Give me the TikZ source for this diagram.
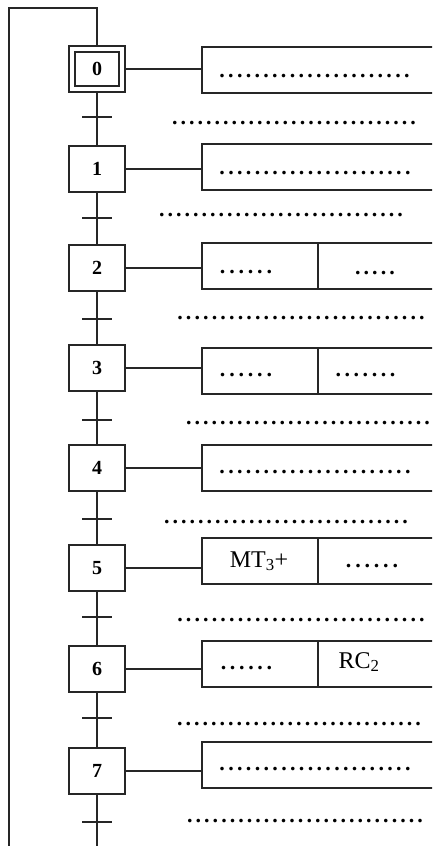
\documentclass[tikz,border=0pt]{standalone}
\usepackage{fontspec}
\setmainfont{Liberation Serif}
\newcommand\dotrow[1]{\hbox to \dimexpr #1\relax{\xleaders\hbox to 8.5pt{\hss.\hss}\hfill}}
\tikzset{
  line/.style={draw=black!85, line width=2pt},
  stepbox/.style={line, minimum width=56pt, minimum height=46pt, inner sep=0pt, font=\fontsize{20}{24}\selectfont\bfseries},
  actbox/.style={line, minimum height=46pt, inner sep=0pt},
  dotstxt/.style={anchor=base, inner sep=0pt, font=\fontsize{22}{26}\selectfont\bfseries},
  lbl/.style={anchor=base, inner sep=0pt, font=\fontsize{24}{28}\selectfont},
}
\newcommand\dotsat[4]{\node[dotstxt] (#1) at ({(#2+#3)/2},#4+1) {\dotrow{#3pt-#2pt+8.7pt}};}
\begin{document}
\begin{tikzpicture}[x=1pt,y=-1pt]
\useasboundingbox (0,0) rectangle (432,846);
\clip (0,0) rectangle (432,846);

% steps
\node[stepbox] (s0) at (97,69) {};
\node[line, minimum width=44pt, minimum height=34pt, inner sep=0pt, font=\fontsize{20}{24}\selectfont\bfseries] (s0in) at (s0.center) {0};
\foreach \i/\cy in {1/169,2/268,3/368,4/468,5/568,6/669,7/771}{
  \node[stepbox] (s\i) at (97,\cy) {\i};
}

% loop back
\coordinate (lt) at (97,8);
\coordinate (ll) at (9,8);
\coordinate (lb) at (9,850);
\draw[line] (s0.north) -- (lt) -- (ll) -- (lb);

% links and transitions
\foreach \i/\j/\ty in {0/1/117,1/2/218,2/3/319,3/4/420,4/5/519,5/6/617,6/7/718}{
  \draw[line] (s\i.south) -- (s\j.north);
  \coordinate (t\i) at (97,\ty);
  \draw[line] ([xshift=-15pt]t\i) -- ([xshift=15pt]t\i);
}
\coordinate (send) at (97,850);
\draw[line] (s7.south) -- (send);
\coordinate (t7) at (97,822);
\draw[line] ([xshift=-15pt]t7) -- ([xshift=15pt]t7);

% action boxes: single
\foreach \i/\ay in {0/70,1/167,4/468,7/765}{
  \node[actbox, minimum width=238pt] (a\i) at (321,\ay) {};
  \draw[line] (s\i.east) -- (s\i.east -| a\i.west);
}
% action boxes: split
\foreach \i/\ay in {2/266,3/371,5/561,6/664}{
  \node[actbox, minimum width=116pt] (al\i) at (260,\ay) {};
  \node[actbox, minimum width=122pt] (ar\i) at (379,\ay) {};
  \draw[line] (s\i.east) -- (s\i.east -| al\i.west);
}

% texts inside action boxes
\dotsat{d0}{222}{407}{76}
\dotsat{d1}{222}{408}{173}
\dotsat{d2l}{222}{270}{272}
\dotsat{d2r}{358}{392}{273}
\dotsat{d3l}{222}{270}{375}
\dotsat{d3r}{338}{393}{375}
\dotsat{d4}{222}{408}{472}
\node[lbl] (m5) at (259,567) {MT\textsubscript{3}+};
\dotsat{d5r}{348}{396}{566}
\dotsat{d6l}{223}{270}{668}
\node[lbl] (m6) at (359,668) {RC\textsubscript{2}};
\dotsat{d7}{222}{408}{769}

% receptivities
\dotsat{r0}{175}{413}{123}
\dotsat{r1}{162}{400}{215}
\dotsat{r2}{180}{422}{318}
\dotsat{r3}{189}{427}{423}
\dotsat{r4}{167}{405}{522}
\dotsat{r5}{180}{422}{620}
\dotsat{r6}{180}{418}{724}
\dotsat{r7}{190}{420}{821}
\end{tikzpicture}
\end{document}
